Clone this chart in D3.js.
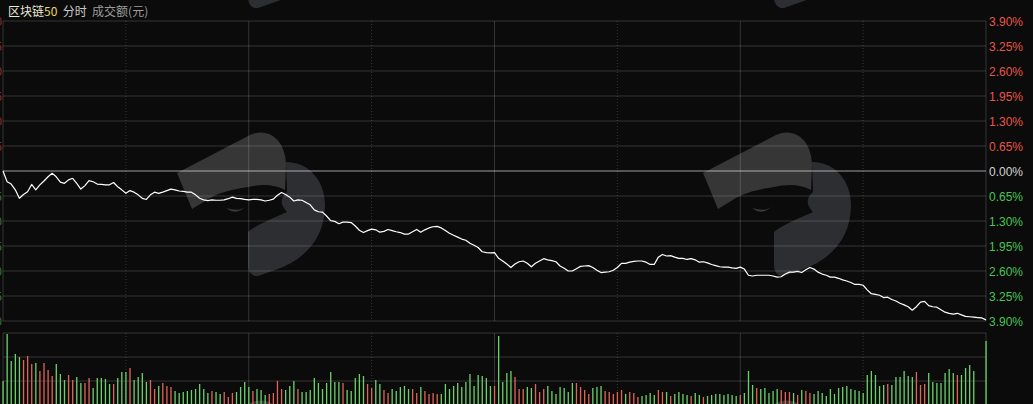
<!DOCTYPE html>
<meta charset="utf-8">
<style>
body { margin: 0; background: #0b0b0b; }
svg { display: block; }
.lbl { font: 12px "Liberation Sans", Arial, sans-serif; }
</style>
<body>
<script src="https://cdn.jsdelivr.net/npm/d3@7/dist/d3.min.js"></script>
<script>
// 涨跌幅(%)，每分钟一个点，9:30-11:30 / 13:00-15:00
var pct = [
  0.00,-0.28,-0.34,-0.49,-0.71,-0.61,-0.54,-0.35,-0.49,-0.36,
  -0.26,-0.15,-0.06,-0.15,-0.29,-0.32,-0.23,-0.19,-0.32,-0.47,
  -0.38,-0.25,-0.28,-0.34,-0.35,-0.36,-0.36,-0.30,-0.41,-0.49,
  -0.58,-0.51,-0.55,-0.62,-0.71,-0.74,-0.62,-0.55,-0.58,-0.55,
  -0.51,-0.47,-0.49,-0.52,-0.53,-0.55,-0.55,-0.62,-0.71,-0.75,
  -0.77,-0.75,-0.76,-0.76,-0.75,-0.72,-0.68,-0.71,-0.72,-0.74,
  -0.75,-0.74,-0.74,-0.75,-0.78,-0.76,-0.73,-0.63,-0.56,-0.61,
  -0.68,-0.78,-0.75,-0.76,-0.82,-0.88,-1.01,-1.06,-1.07,-1.17,
  -1.29,-1.31,-1.37,-1.33,-1.33,-1.34,-1.43,-1.54,-1.60,-1.55,
  -1.51,-1.53,-1.59,-1.57,-1.52,-1.55,-1.58,-1.60,-1.64,-1.64,
  -1.58,-1.52,-1.59,-1.53,-1.48,-1.45,-1.44,-1.48,-1.55,-1.62,
  -1.67,-1.72,-1.77,-1.80,-1.88,-1.93,-1.99,-2.10,-2.12,-2.13,
  -2.12,-2.27,-2.34,-2.42,-2.51,-2.42,-2.36,-2.34,-2.40,-2.49,
  -2.40,-2.34,-2.28,-2.31,-2.33,-2.36,-2.47,-2.53,-2.60,-2.60,
  -2.54,-2.48,-2.47,-2.46,-2.51,-2.58,-2.64,-2.63,-2.62,-2.58,
  -2.51,-2.40,-2.40,-2.37,-2.35,-2.34,-2.34,-2.37,-2.43,-2.43,
  -2.24,-2.17,-2.21,-2.20,-2.24,-2.27,-2.27,-2.30,-2.28,-2.31,
  -2.37,-2.36,-2.39,-2.43,-2.46,-2.49,-2.50,-2.50,-2.52,-2.53,
  -2.50,-2.55,-2.71,-2.73,-2.71,-2.71,-2.71,-2.71,-2.73,-2.76,
  -2.75,-2.68,-2.63,-2.63,-2.61,-2.64,-2.57,-2.51,-2.55,-2.63,
  -2.68,-2.71,-2.76,-2.76,-2.79,-2.83,-2.86,-2.90,-2.95,-2.95,
  -2.97,-3.09,-3.19,-3.21,-3.23,-3.29,-3.28,-3.34,-3.38,-3.44,
  -3.48,-3.53,-3.62,-3.53,-3.41,-3.39,-3.50,-3.53,-3.54,-3.61,
  -3.67,-3.70,-3.72,-3.70,-3.74,-3.78,-3.79,-3.80,-3.81,-3.82,
  -3.87
];

// 成交额(相对值)
var volume = [
  24,71,44,51,48,45,49,41,42,34,42,35,29,41,31,25,30,25,28,22,
  22,27,17,27,27,26,21,21,27,33,33,37,25,28,32,23,25,16,19,22,
  19,18,14,12,13,14,15,16,21,16,12,14,13,11,13,8,12,13,18,23,
  18,14,16,15,10,11,12,24,16,15,19,24,16,13,13,15,27,22,16,22,
  33,23,23,22,15,14,27,31,29,21,17,25,21,15,12,16,14,18,19,16,
  16,12,18,14,11,12,11,11,21,16,19,22,18,23,31,19,30,29,27,19,
  19,69,23,32,34,28,16,16,18,17,21,13,16,19,14,11,18,17,13,22,
  22,18,15,11,17,18,19,14,13,11,13,15,11,13,12,8,9,10,12,10,
  15,13,13,9,11,13,11,10,9,12,10,8,9,10,11,11,10,11,10,9,
  10,12,34,20,17,16,17,12,14,16,15,13,13,12,10,15,14,12,11,14,
  12,9,16,11,17,18,19,16,15,14,12,30,34,30,19,20,21,20,28,28,
  34,29,28,33,20,21,32,23,22,22,32,36,32,30,30,37,40,34,0,0,
  64
];

var pctTicks = [3.90, 3.25, 2.60, 1.95, 1.30, 0.65, 0, -0.65, -1.30, -1.95, -2.60, -3.25, -3.90];
var titleParts = [
  {text: "区块链", color: "#e9e7da"},
  {text: "50", color: "#e6d56c"},
  {text: "  分时", color: "#c8c8c8"},
  {text: "  成交额(元)", color: "#9c9c9c"}
];

var W = 1033, H = 404;
var left = 3, right = 986;

var x = d3.scaleLinear().domain([0, 240]).range([left, right]);
var y = d3.scaleLinear().domain([-3.9, 3.9]).range([321, 21]);
var yv = d3.scaleLinear().domain([0, 72]).range([405, 333]);

var svg = d3.select("body").append("svg")
    .attr("width", W)
    .attr("height", H);

svg.append("rect").attr("width", W).attr("height", H).attr("fill", "#0b0b0b");

// 水印
var mark = svg.append("g");
[[0, -268], [526, -268], [0, 0], [526, 0], [0, 268], [526, 268]].forEach(function(o) {
  var g = mark.append("g").attr("transform", "translate(" + (170 + o[0]) + "," + (120 + o[1]) + ")");
  g.append("path")
      .attr("d", "M7,53 L80,15 C100,6 116,22 116,45 L115,70 C105,64 90,64 78,67 C65,69 50,72 40,78 L22,89 Z")
      .attr("fill", "#363636");
  g.append("path")
      .attr("d", "M116,42 C140,42 155,62 155,85 C155,118 135,140 105,150 L88,156 C82,157 78,152 78,145 L78,112 C88,104 104,98 117,92 C112,86 108,80 117,72 Z")
      .attr("fill", "#2d2e31");
  g.append("path")
      .attr("d", "M56,88 Q67,97 78,84 Q72,93 56,88 Z")
      .attr("fill", "#3a3a3a");
});

var grid = "rgba(255,255,255,0.17)";

// 横向网格
svg.append("g").selectAll("line")
    .data(pctTicks)
  .enter().append("line")
    .attr("x1", left).attr("x2", right)
    .attr("y1", function(d) { return y(d); })
    .attr("y2", function(d) { return y(d); })
    .attr("stroke", function(d) { return d === 0 ? "rgba(255,255,255,0.3)" : grid; })
    .attr("stroke-width", function(d) { return d === 0 ? 2 : 1; });

svg.append("g").selectAll("line")
    .data([72, 48, 24])
  .enter().append("line")
    .attr("x1", left).attr("x2", right)
    .attr("y1", function(d) { return yv(d); })
    .attr("y2", function(d) { return yv(d); })
    .attr("stroke", grid);

// 纵向网格
var vlines = [0, 30, 60, 90, 120, 150, 180, 210, 240];
[[21, 321], [333, 405]].forEach(function(r) {
  svg.append("g").selectAll("line")
      .data(vlines)
    .enter().append("line")
      .attr("x1", function(d) { return x(d); })
      .attr("x2", function(d) { return x(d); })
      .attr("y1", r[0]).attr("y2", r[1])
      .attr("stroke", grid)
      .attr("stroke-dasharray", function(d) { return d % 60 === 30 ? "1,2" : null; });
});

// 成交额柱
svg.append("g").selectAll("rect")
    .data(volume)
  .enter().append("rect")
    .attr("x", function(d, i) { return x(i) - 0.6; })
    .attr("width", 1.3)
    .attr("y", function(d) { return yv(d); })
    .attr("height", function(d) { return yv(0) - yv(d); })
    .attr("fill", function(d, i) {
      var prev = i === 0 ? 0 : pct[i - 1];
      return pct[i] > prev ? "#e0645a" : "#6bd26b";
    });

// 分时线
svg.append("path")
    .datum(pct)
    .attr("fill", "none")
    .attr("stroke", "#ffffff")
    .attr("stroke-width", 1.2)
    .attr("stroke-linejoin", "round")
    .attr("d", d3.line()
        .x(function(d, i) { return x(i); })
        .y(function(d) { return y(d); }));

function tickColor(d) { return d > 0 ? "#e5564a" : d < 0 ? "#48c456" : "#d4d4d4"; }

// 右侧坐标
svg.append("g").selectAll("text")
    .data(pctTicks)
  .enter().append("text")
    .attr("class", "lbl")
    .attr("x", 989)
    .attr("y", function(d) { return y(d) + 4.5; })
    .attr("fill", tickColor)
    .text(function(d) { return Math.abs(d).toFixed(2) + "%"; });

// 左侧坐标（被裁掉，只露边）
svg.append("g").selectAll("text")
    .data(pctTicks.filter(function(d) { return d !== 0; }))
  .enter().append("text")
    .attr("class", "lbl")
    .attr("x", 2)
    .attr("text-anchor", "end")
    .attr("y", function(d) { return y(d) + 4.5; })
    .attr("fill", function(d) { return d > 0 ? "#8a2f2a" : "#2f7a36"; })
    .text(function(d) { return Math.abs(d).toFixed(2); });

// 标题
var title = svg.append("text")
    .attr("x", 8)
    .attr("y", 16)
    .attr("xml:space", "preserve")
    .style("font", "12px 'Noto Sans CJK SC', sans-serif")
    .style("white-space", "pre");
title.selectAll("tspan")
    .data(titleParts)
  .enter().append("tspan")
    .attr("fill", function(d) { return d.color; })
    .text(function(d) { return d.text; });
</script>
